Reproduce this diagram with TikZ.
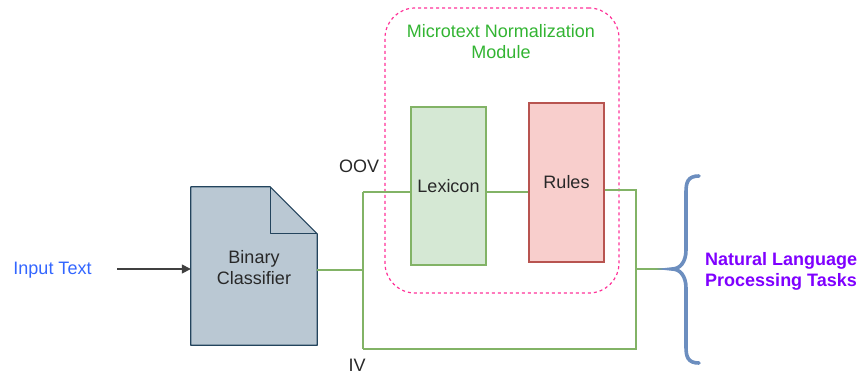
\documentclass[tikz,border=0pt]{standalone}
\usepackage{fontspec}
\setmainfont{Liberation Sans}
\usetikzlibrary{arrows.meta}
\definecolor{inblue}{RGB}{51,102,255}
\definecolor{docfill}{HTML}{BAC8D3}
\definecolor{docline}{HTML}{23445D}
\definecolor{gfill}{HTML}{D5E8D4}
\definecolor{gline}{HTML}{82B366}
\definecolor{rfill}{HTML}{F8CECC}
\definecolor{rline}{HTML}{B85450}
\definecolor{pinkd}{HTML}{FF3399}
\definecolor{titleg}{RGB}{50,180,50}
\definecolor{bracec}{HTML}{6C8EBF}
\definecolor{purp}{HTML}{7F00FF}
\definecolor{txtc}{RGB}{40,40,40}
\tikzset{
  lbl/.style={font=\fontsize{18}{21}\selectfont, align=center, inner sep=0pt},
  boxg/.style={draw=gline, fill=gfill, line width=1.3pt, minimum width=75pt, minimum height=158pt, inner sep=0pt, text=txtc, font=\fontsize{18}{21}\selectfont},
  boxr/.style={draw=rline, fill=rfill, line width=1.3pt, minimum width=75pt, minimum height=159pt, inner sep=0pt, text=txtc, font=\fontsize{18}{21}\selectfont},
  gw/.style={draw=gline, line width=2.8pt},
}
\begin{document}
\begin{tikzpicture}[x=1pt,y=-1pt]
\useasboundingbox (0,0) rectangle (867,375);
% dashed module frame
\node[draw=pinkd, dashed, line width=1.2pt, rounded corners=30pt, minimum width=234pt, minimum height=285pt, inner sep=0pt] (mod) at (502,150.5) {};
\node[lbl, text=titleg] (title) at (501,41.5) {Microtext Normalization\\Module};
% input
\node[lbl, text=inblue] (inp) at (52.5,270) {Input Text};
% document shape
\node[minimum width=126pt, minimum height=158pt, inner sep=0pt] (bc) at (254,266) {};
\fill[docfill] (bc.north west) -- ([xshift=-47pt]bc.north east) -- ([yshift=-47pt]bc.north east) -- (bc.south east) -- (bc.south west) -- cycle;
\draw[docline, line width=1.2pt, line join=round] (bc.north west) -- ([xshift=-47pt]bc.north east) -- ([yshift=-47pt]bc.north east) -- (bc.south east) -- (bc.south west) -- cycle;
\draw[docline, line width=1.2pt, line join=round] ([xshift=-47pt]bc.north east) -- ([xshift=-47pt,yshift=-47pt]bc.north east) -- ([yshift=-47pt]bc.north east);
\node[lbl, text=txtc] (bctext) at (254,268) {Binary\\Classifier};
\coordinate (ia) at (117,269);
\draw[-{Triangle[length=9pt,width=9pt]}, line width=1.6pt, color=black!75] (ia) -- (bc.west |- ia);
% boxes
\node[boxg] (lex) at (448.5,186) {Lexicon};
\node[boxr] (rul) at (566.5,182.5) {Rules};
% junction coordinates
\coordinate (j1) at (363,270);
\coordinate (jt) at (363,192);
\coordinate (jb) at (363,349);
\coordinate (k1) at (636,190);
\coordinate (k2) at (636,269);
\coordinate (k3) at (636,349);
\coordinate (bt) at (672,269);
% green connectors
\draw[gw] (bc.east |- j1) -- (j1);
\draw[gw] (jt) -- (jb);
\draw[gw] (jt) -- (lex.west |- jt);
\draw[gw] (lex.east |- jt) -- (rul.west |- jt);
\draw[gw] (rul.east |- k1) -- (k1) -- (k3) -- (jb);
\draw[gw] (k2) -- (bt);
% labels
\node[lbl, text=txtc] (oov) at (359,166) {OOV};
\node[lbl, text=txtc] (iv) at (357,365) {IV};
% brace
\draw[bracec, line width=3.6pt, line cap=round] (699,176) .. controls (688,176) and (686,182) .. (686,192) -- (686,250) .. controls (686,262) and (680,269) .. (bt) .. controls (680,269) and (686,276) .. (686,288) -- (686,347) .. controls (686,357) and (688,363) .. (699,363);
\node[lbl, text=purp, font=\bfseries\fontsize{18}{21}\selectfont, anchor=west, align=left] (nlp) at (705,271) {Natural Language\\Processing Tasks};
\end{tikzpicture}
\end{document}
